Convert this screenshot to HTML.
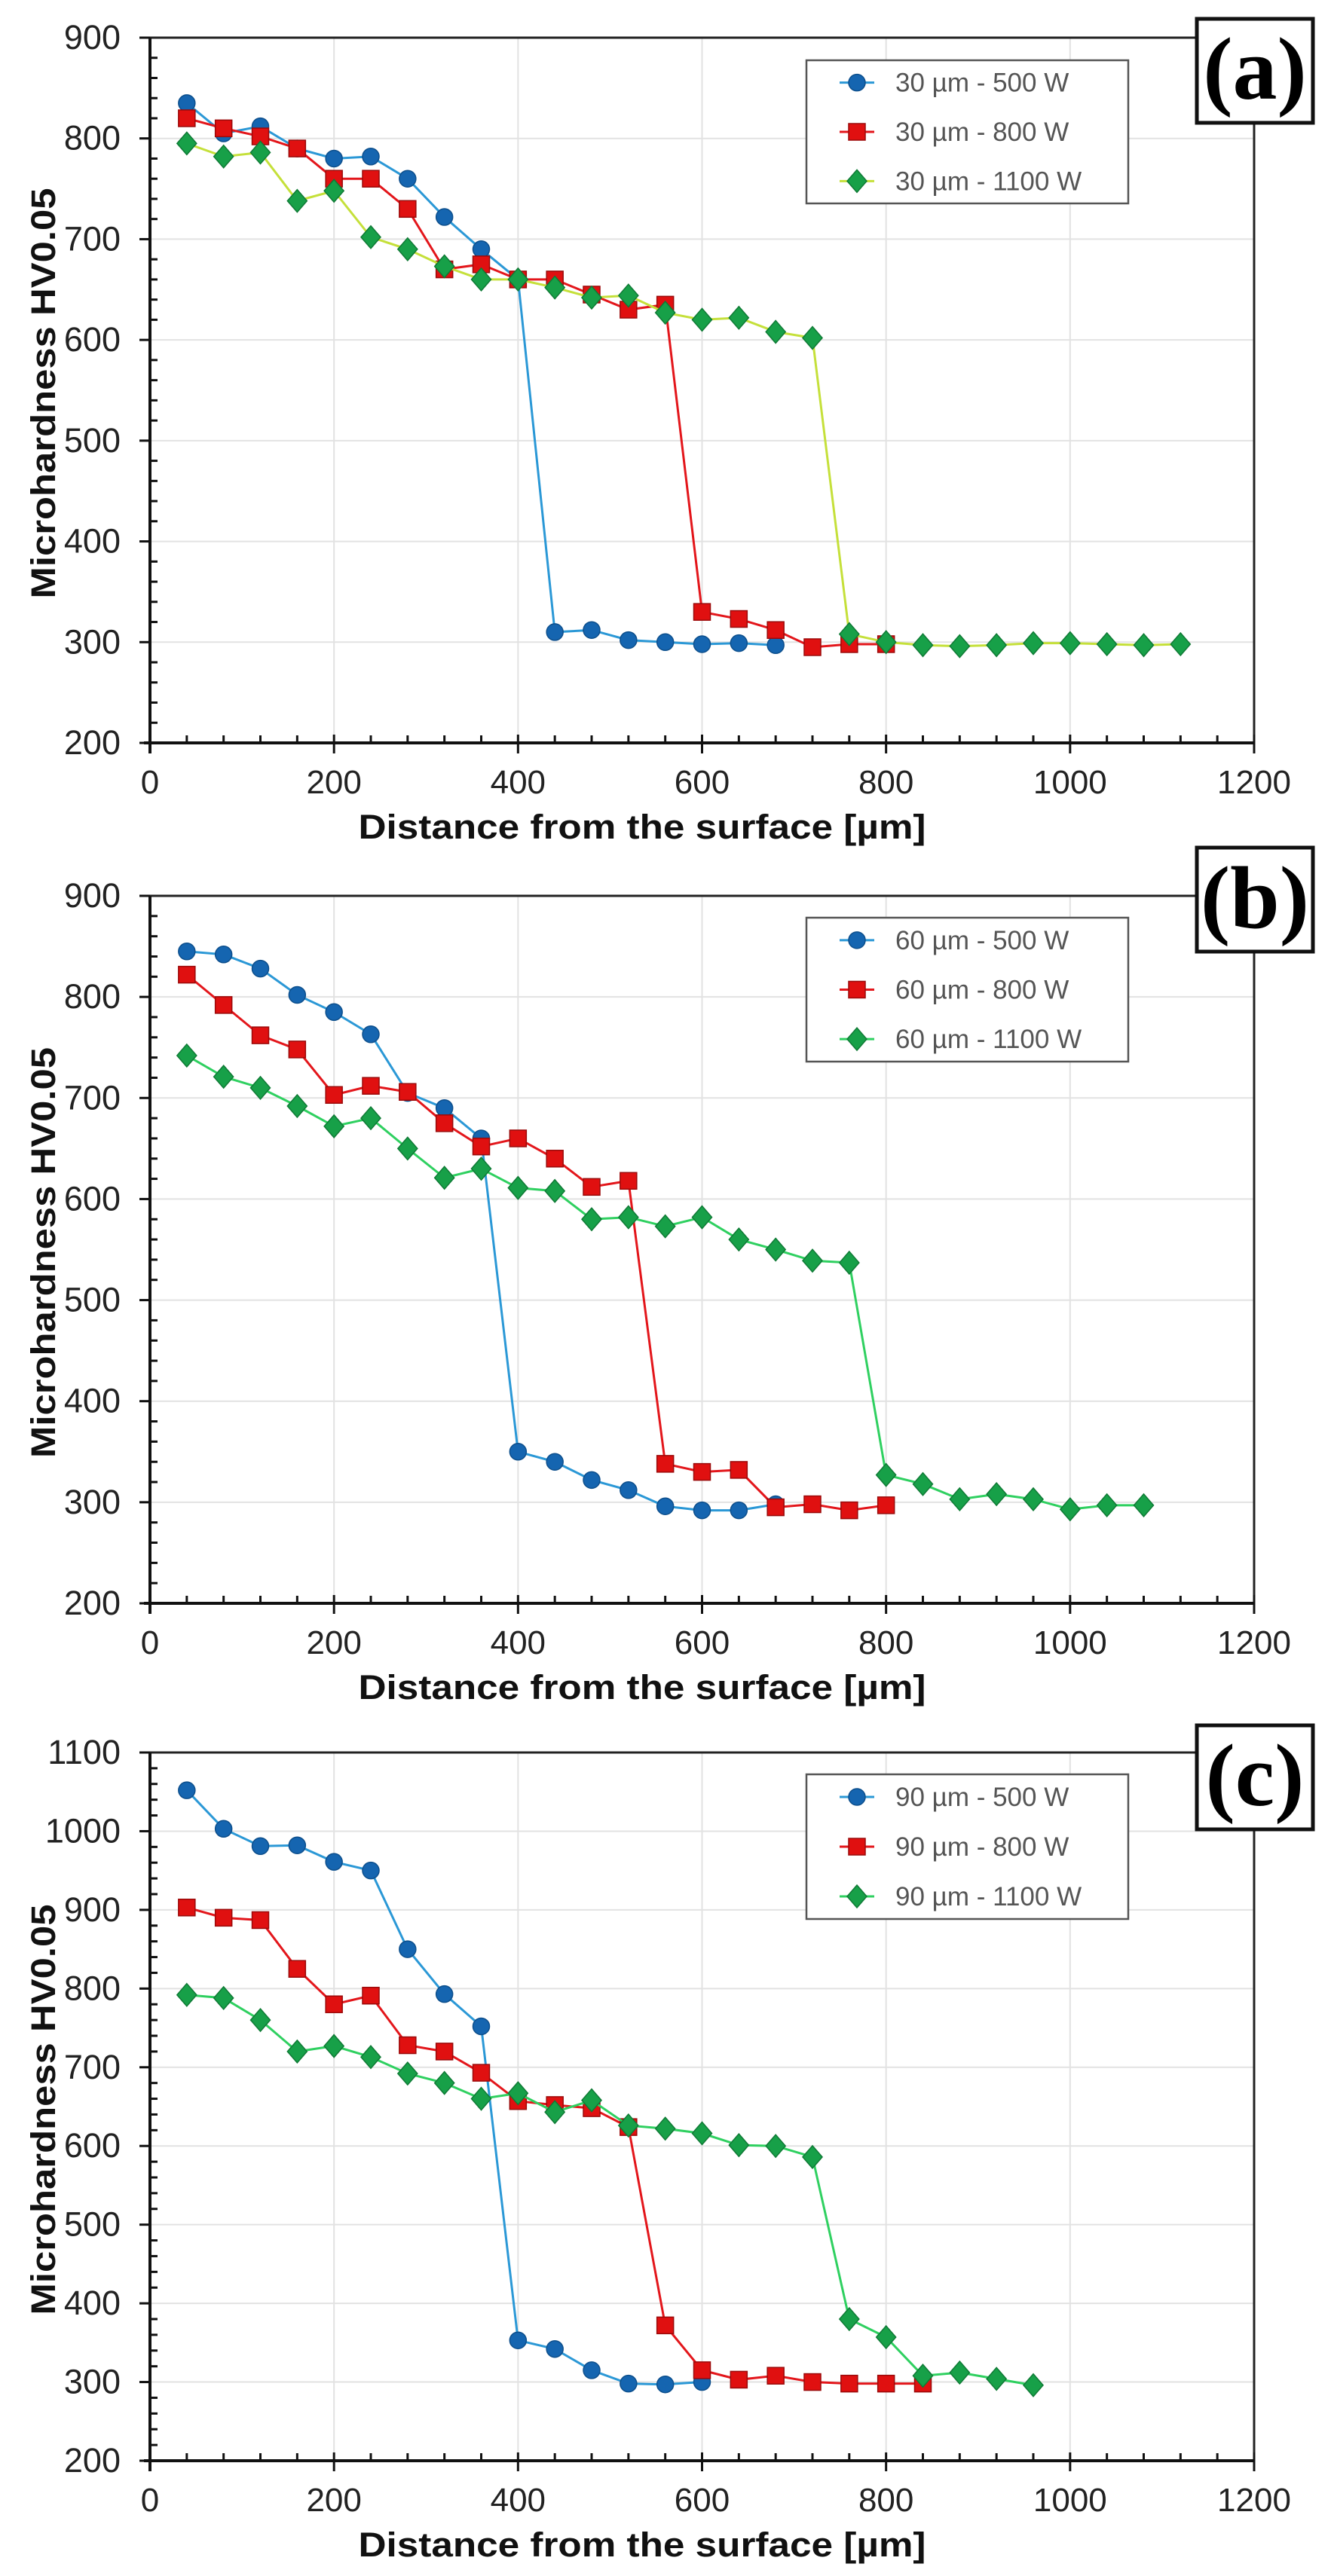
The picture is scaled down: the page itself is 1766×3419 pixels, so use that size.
<!DOCTYPE html>
<html><head><meta charset="utf-8"><style>
html,body{margin:0;padding:0;background:#fff;}
svg{display:block;font-family:"Liberation Sans",Arial,sans-serif;}
</style></head><body>
<svg id="fig" width="1766" height="3419" viewBox="0 0 1766 3419" xmlns="http://www.w3.org/2000/svg"></svg>
<script>
// ---- data ----
const xA = [40,80,120,160,200,240,280,320,360,400,440,480,520,560,600,640,680,720,760,800,840,880,920,960,1000,1040,1080,1120];
const a500 = [835,805,812,790,780,782,760,722,690,660,310,312,302,300,298,299,297];
const a800 = [820,810,802,790,760,760,730,670,675,660,660,645,630,635,330,323,312,295,298,298];
const a1100 = [795,782,786,738,748,702,690,673,660,660,652,642,644,627,620,622,608,602,308,300,297,296,297,299,299,298,297,298];
const b500 = [845,842,828,802,785,763,705,690,660,350,340,322,312,296,292,292,298];
const b800 = [822,792,762,748,703,712,706,675,652,660,640,612,618,338,330,332,295,298,292,297];
const b1100 = [742,721,710,692,672,680,650,621,630,611,608,580,582,573,582,560,550,539,537,327,318,303,308,303,293,297,297];
const c500 = [1052,1003,981,982,961,950,850,793,752,353,342,315,298,297,300];
const c800 = [903,890,887,825,780,791,728,720,693,657,652,648,624,372,315,303,308,300,298,298,298];
const c1100 = [792,788,760,720,727,713,692,680,660,667,643,658,626,622,616,601,600,586,380,357,308,312,304,296];
const xTicks = [0,200,400,600,800,1000,1200];
const yTicksAB = [200,300,400,500,600,700,800,900];
const yTicksC = [200,300,400,500,600,700,800,900,1000,1100];
const namesA = ["30 µm - 500 W","30 µm - 800 W","30 µm - 1100 W"];
const namesB = ["60 µm - 500 W","60 µm - 800 W","60 µm - 1100 W"];
const namesC = ["90 µm - 500 W","90 µm - 800 W","90 µm - 1100 W"];

const NS="http://www.w3.org/2000/svg";
const svg=document.getElementById('fig');
function mk(tag,attrs,parent){const e=document.createElementNS(NS,tag);for(const k in attrs)e.setAttribute(k,attrs[k]);(parent||svg).appendChild(e);return e;}

const panels=[
 {id:'a',label:'(a)',top:50,bot:986,ymin:200,ymax:900,yt:yTicksAB,series:[a500,a800,a1100],names:namesA,green:'#c5e03a',box:[1588,25],leg:[1070,80,1497,270]},
 {id:'b',label:'(b)',top:1189,bot:2128,ymin:200,ymax:900,yt:yTicksAB,series:[b500,b800,b1100],names:namesB,green:'#2fd060',box:[1588,1125],leg:[1070,1218,1497,1409]},
 {id:'c',label:'(c)',top:2326,bot:3266,ymin:200,ymax:1100,yt:yTicksC,series:[c500,c800,c1100],names:namesC,green:'#2fd060',box:[1588,2290],leg:[1070,2355,1497,2547]}
];
const X0=199,X1=1664;
const blueLine='#2b98d6',blueFill='#1565b0',redLine='#e3161b',redFill='#e01010',greenFill='#17a048';

panels.forEach(p=>{
  const g=mk('g',{});
  
  
  const sx=v=>X0+(v-0)/(1200)*(X1-X0);
  const sy=v=>p.bot-(v-p.ymin)/(p.ymax-p.ymin)*(p.bot-p.top);
  // grid
  const grid=mk('g',{},g);
  
  
  xTicks.forEach(t=>{if(t>0&&t<1200)mk('line',{x1:sx(t),x2:sx(t),y1:p.top,y2:p.bot,stroke:'#e2e2e2','stroke-width':2},grid);});
  p.yt.forEach(t=>{if(t>p.ymin&&t<p.ymax)mk('line',{x1:X0,x2:X1,y1:sy(t),y2:sy(t),stroke:'#e2e2e2','stroke-width':2},grid);});
  // frame
  const fr=mk('rect',{x:X0,y:p.top,width:X1-X0,height:p.bot-p.top,fill:'none',stroke:'#222','stroke-width':3},g);
  
  
  // axes
  const xa=mk('g',{},g);
  
  
  mk('line',{x1:X0-8,x2:X1,y1:p.bot,y2:p.bot,stroke:'#111','stroke-width':4},xa);
  for(let v=0;v<=1200;v+=40){const maj=v%200===0;mk('line',{x1:sx(v),x2:sx(v),y1:p.bot-(maj?11:10),y2:p.bot+(maj?14:0),stroke:'#111','stroke-width':3},xa);}
  xTicks.forEach(t=>{const tx=mk('text',{x:sx(t),y:p.bot+67,'text-anchor':'middle','font-size':44,fill:'#222'},xa);tx.textContent=t;
    
    });
  const ya=mk('g',{},g);
  
  
  mk('line',{x1:X0,x2:X0,y1:p.top,y2:p.bot+14,stroke:'#111','stroke-width':4},ya);
  for(let v=p.ymin;v<=p.ymax;v+=20){const maj=(v-p.ymin)%100===0;mk('line',{x1:X0-(maj?14:0),x2:X0+(maj?0:10),y1:sy(v),y2:sy(v),stroke:'#111','stroke-width':3},ya);}
  p.yt.forEach(t=>{const tx=mk('text',{x:160,y:sy(t)+15,'text-anchor':'end','font-size':45,fill:'#222'},ya);tx.textContent=t;
    
    });
  const yt=mk('text',{x:0,y:0,transform:`translate(73,${(p.top+p.bot)/2+4}) rotate(-90)`,'text-anchor':'middle','font-size':45,'font-weight':'bold',fill:'#111',textLength:545,lengthAdjust:'spacingAndGlyphs'},g);
  yt.textContent='Microhardness HV0.05';
  
  
  const xt=mk('text',{x:852,y:p.bot+127,'text-anchor':'middle','font-size':45,'font-weight':'bold',fill:'#111',textLength:753,lengthAdjust:'spacingAndGlyphs'},g);
  xt.textContent='Distance from the surface [µm]';
  
  
  // series
  const lineCols=[blueLine,redLine,p.green];
  const fills=[blueFill,redFill,greenFill];
  const shapes=['circle','square','diamond'];
  function marker(par,shape,cx,cy,fill){
    if(shape==='circle')return mk('circle',{cx:cx,cy:cy,r:11,fill:fill,stroke:'#0d4f8c','stroke-width':1.5},par);
    if(shape==='square')return mk('rect',{x:cx-11,y:cy-11,width:22,height:22,fill:fill,stroke:'#9a0a0a','stroke-width':1.5},par);
    return mk('polygon',{points:`${cx},${cy-15} ${cx+13},${cy} ${cx},${cy+15} ${cx-13},${cy}`,fill:fill,stroke:'#0f7a35','stroke-width':1.5},par);
  }
  p.series.forEach((s,i)=>{
    const sg=mk('g',{},g);
    
    
    const pts=s.map((v,j)=>sx(xA[j])+','+sy(v)).join(' ');
    mk('polyline',{points:pts,fill:'none',stroke:lineCols[i],'stroke-width':3},sg);
    s.forEach((v,j)=>{const m=marker(sg,shapes[i],sx(xA[j]),sy(v),fills[i]);
      
      });
  });
  // legend
  const [lx0,ly0,lx1,ly1]=p.leg;
  const lg=mk('g',{},g);
  
  
  mk('rect',{x:lx0,y:ly0,width:lx1-lx0,height:ly1-ly0,fill:'#fff',stroke:'#555','stroke-width':2.5},lg);
  const rh=(ly1-ly0)/3;
  p.names.forEach((n,i)=>{
    const cy=ly0+rh*(i+0.5)+(i-1)*2;
    const le=mk('g',{},lg);
    
    
    mk('line',{x1:1114,x2:1160,y1:cy,y2:cy,stroke:lineCols[i],'stroke-width':3},le);
    marker(le,shapes[i],1137,cy,fills[i]);
    const t=mk('text',{x:1188,y:cy+12,'font-size':35,fill:'#555'},le);t.textContent=n;
  });
  // panel label box
  const [bx,by]=p.box;
  const lb=mk('g',{},g);
  
  
  mk('rect',{x:bx,y:by,width:154,height:138,fill:'#fff',stroke:'#111','stroke-width':5},lb);
  const lt=mk('text',{x:bx+77,y:by+106,'text-anchor':'middle','font-size':118,'font-weight':'bold','font-family':'"Liberation Serif","Times New Roman",serif',fill:'#000'},lb);
  lt.textContent=p.label;
});
</script>
</body></html>
